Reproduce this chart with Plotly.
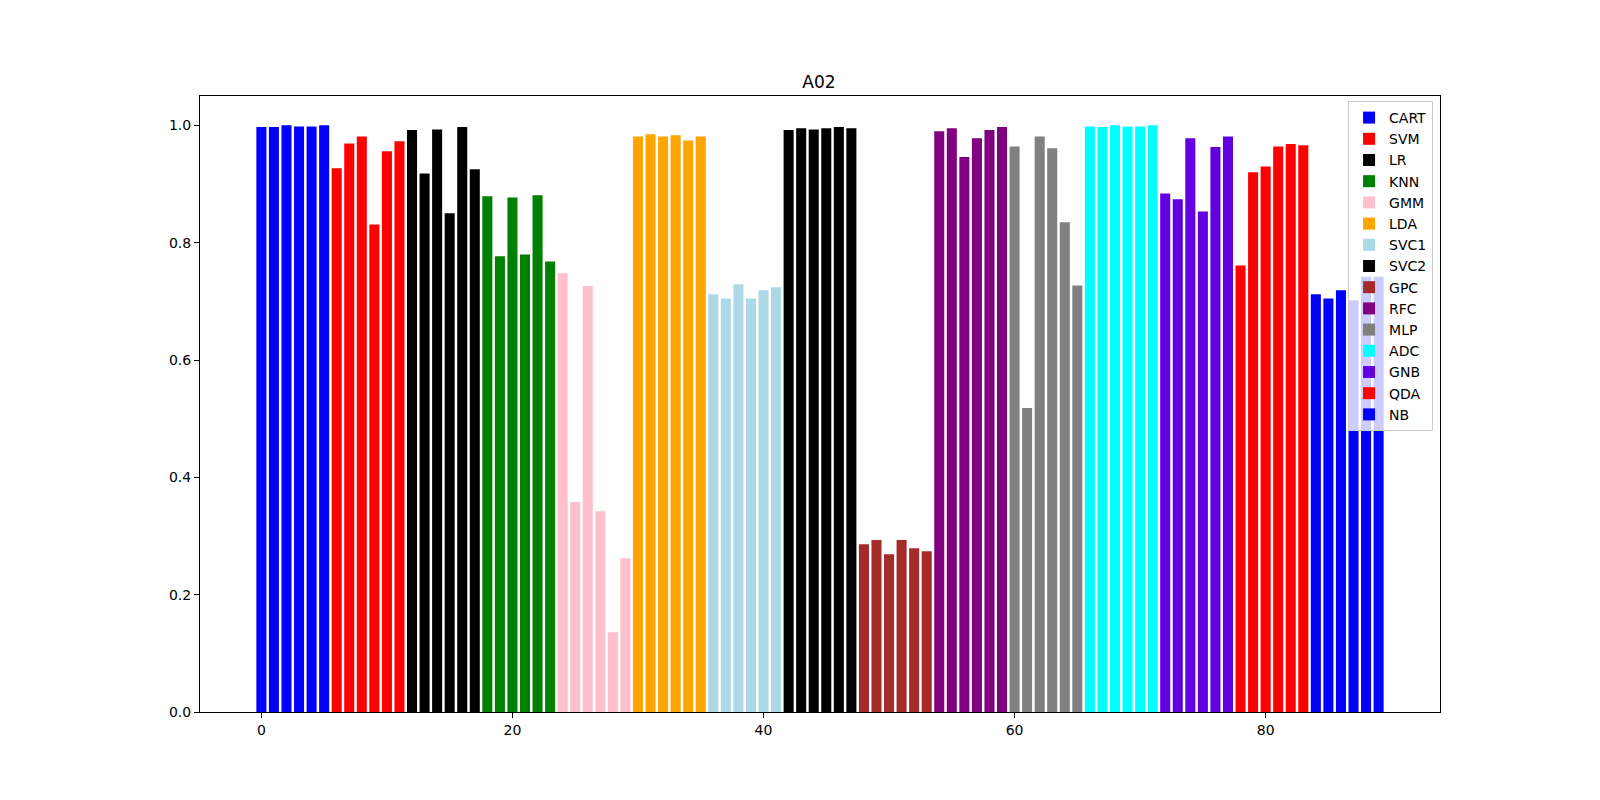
import plotly.graph_objects as go

models = ["CART", "SVM", "LR", "KNN", "GMM", "LDA", "SVC1", "SVC2", "GPC", "RFC",
          "MLP", "ADC", "GNB", "QDA", "NB"]
colors = ["#0000ff", "#ff0000", "#000000", "#008000", "#ffc0cb", "#ffa500", "#add8e6",
          "#000000", "#a52a2a", "#800080", "#808080", "#00ffff", "#6200e0", "#ff0000", "#0000ff"]

cart = [0.997, 0.997, 1.000, 0.998, 0.998, 1.000]
svm = [0.927, 0.969, 0.981, 0.831, 0.956, 0.973]
lr = [0.992, 0.918, 0.993, 0.850, 0.997, 0.925]
knn = [0.879, 0.777, 0.877, 0.780, 0.881, 0.768]
gmm = [0.748, 0.358, 0.726, 0.342, 0.136, 0.262]
lda = [0.981, 0.985, 0.981, 0.983, 0.974, 0.981]
svc1 = [0.712, 0.705, 0.729, 0.705, 0.719, 0.724]
svc2 = [0.992, 0.995, 0.993, 0.995, 0.997, 0.995]
gpc = [0.286, 0.293, 0.269, 0.293, 0.279, 0.274]
rfc = [0.990, 0.995, 0.946, 0.978, 0.992, 0.997]
mlp = [0.964, 0.518, 0.981, 0.961, 0.835, 0.727]
adc = [0.998, 0.997, 1.000, 0.998, 0.998, 1.000]
gnb = [0.884, 0.874, 0.978, 0.853, 0.963, 0.981]
qda = [0.761, 0.920, 0.930, 0.964, 0.968, 0.966]
nb = [0.712, 0.705, 0.719, 0.702, 0.742, 0.742]

series = [cart, svm, lr, knn, gmm, lda, svc1, svc2, gpc, rfc, mlp, adc, gnb, qda, nb]

fig = go.Figure()
idx = 0
for name, col, vals in zip(models, colors, series):
    xs = list(range(idx, idx + len(vals)))
    idx += len(vals)
    fig.add_trace(go.Bar(x=xs, y=vals, name=name, width=0.8,
                         marker=dict(color=col, line=dict(width=0))))

font = "DejaVu Sans, sans-serif"
fig.update_layout(
    width=1600, height=800,
    barmode="overlay",
    plot_bgcolor="white", paper_bgcolor="white",
    margin=dict(l=192, r=168, t=88, b=96),
    font=dict(family=font, size=14, color="black"),
    title=dict(text="A02", x=(811 / 1600), xanchor="center", y=1 - 74 / 800, yanchor="middle",
               font=dict(family=font, size=17, color="black")),
    showlegend=True,
    legend=dict(x=0.9944, xanchor="right", y=0.9919, yanchor="top",
                bgcolor="rgba(255,255,255,0.8)", bordercolor="#cccccc", borderwidth=1,
                font=dict(family=font, size=14, color="black"), tracegroupgap=0,
                itemsizing="constant"),
)
fig.update_xaxes(range=[-4.89, 93.89], tickmode="array", tickvals=[0, 20, 40, 60, 80],
                 ticks="outside", ticklen=5, tickcolor="black", tickwidth=1,
                 showline=True, linecolor="black", linewidth=1, mirror=True,
                 showgrid=False, zeroline=False)
fig.update_yaxes(range=[0, 1.05], tickmode="array", tickvals=[0, 0.2, 0.4, 0.6, 0.8, 1.0],
                 tickformat=".1f",
                 ticks="outside", ticklen=5, tickcolor="black", tickwidth=1,
                 showline=True, linecolor="black", linewidth=1, mirror=True,
                 showgrid=False, zeroline=False)

fig.write_html("out.html")
